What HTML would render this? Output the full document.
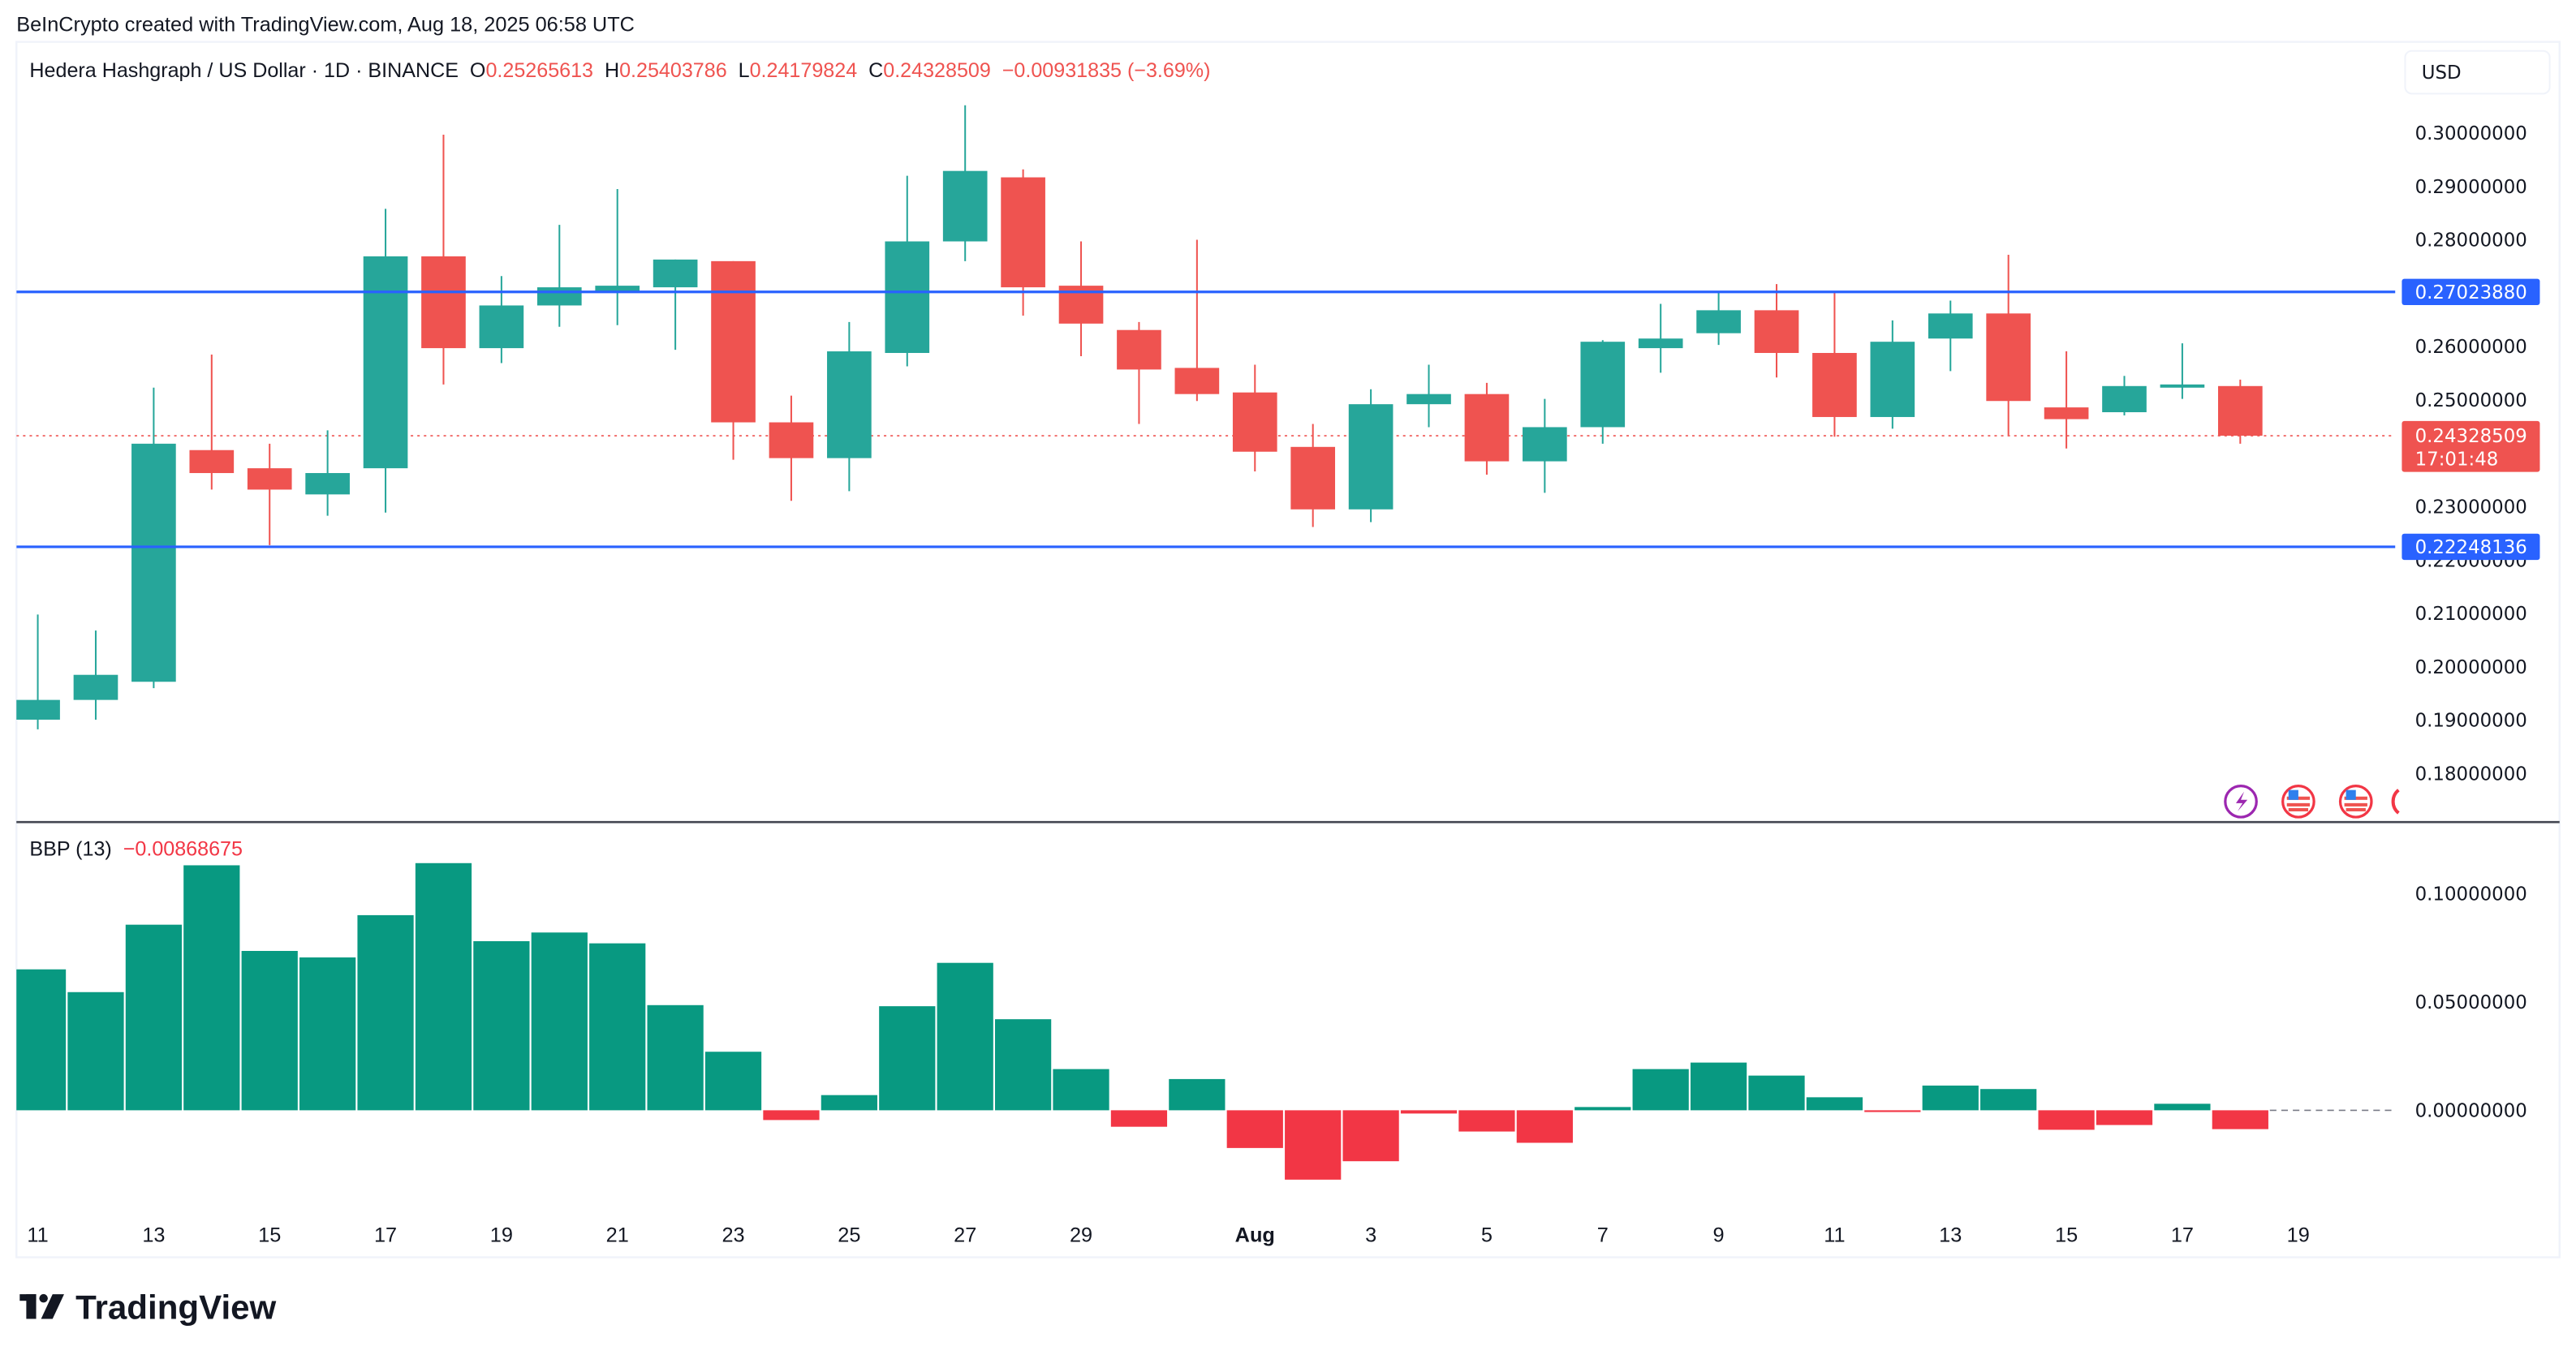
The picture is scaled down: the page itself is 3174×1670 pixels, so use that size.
<!DOCTYPE html>
<html><head><meta charset="utf-8"><style>
html,body{margin:0;padding:0;background:#fff;}
svg{display:block;}
text{font-family:"Liberation Sans",sans-serif;}
.ax{font-family:"DejaVu Sans","Liberation Sans",sans-serif;font-size:11.3px;fill:#131722;}
</style></head><body>
<svg id="chart" width="3174" height="1670" viewBox="0 0 1568 825" xmlns="http://www.w3.org/2000/svg">
<rect x="0" y="0" width="1568" height="825" fill="#fff"/>
<text x="10" y="19" font-size="12.5" fill="#131722">BeInCrypto created with TradingView.com, Aug 18, 2025 06:58 UTC</text>
<rect x="10" y="25.5" width="1548" height="740" fill="none" stroke="#f0f3fa" stroke-width="1.2"/>
<g id="price"></g>
<g id="bbp"></g>
<g id="overlay"></g>
<text x="18" y="47" font-size="12.4"><tspan fill="#131722">Hedera Hashgraph / US Dollar · 1D · BINANCE&#160;&#160;O</tspan><tspan fill="#ef5350">0.25265613</tspan><tspan fill="#131722">&#160;&#160;H</tspan><tspan fill="#ef5350">0.25403786</tspan><tspan fill="#131722">&#160;&#160;L</tspan><tspan fill="#ef5350">0.24179824</tspan><tspan fill="#131722">&#160;&#160;C</tspan><tspan fill="#ef5350">0.24328509&#160;&#160;−0.00931835 (−3.69%)</tspan></text>
<rect x="1464" y="31" width="88" height="26" rx="4" fill="#fff" stroke="#f0f3fa"/>
<text x="1474" y="48" class="ax">USD</text>
<text x="18" y="521" font-size="12.4"><tspan fill="#131722">BBP (13)&#160;&#160;</tspan><tspan fill="#f23645">−0.00868675</tspan></text>
<g>
<rect x="12" y="788" width="10" height="4" fill="#131722"/><rect x="16" y="788" width="6" height="15" fill="#131722"/>
<circle cx="26.5" cy="790.5" r="2.6" fill="#131722"/>
<polygon points="32,788 39,788 32,803 25,803" fill="#131722"/>
<text x="46" y="803" font-size="20.8" font-weight="bold" fill="#131722">TradingView</text>
</g>
</svg>
<script>
const dates=["Jul 11","Jul 12","Jul 13","Jul 14","Jul 15","Jul 16","Jul 17","Jul 18","Jul 19","Jul 20","Jul 21","Jul 22","Jul 23","Jul 24","Jul 25","Jul 26","Jul 27","Jul 28","Jul 29","Jul 30","Jul 31","Aug 1","Aug 2","Aug 3","Aug 4","Aug 5","Aug 6","Aug 7","Aug 8","Aug 9","Aug 10","Aug 11","Aug 12","Aug 13","Aug 14","Aug 15","Aug 16","Aug 17","Aug 18"];
const opens=[0.1901,0.1938,0.1972,0.2406,0.2372,0.2323,0.2372,0.2769,0.2597,0.2677,0.2701,0.2711,0.2760,0.2458,0.2391,0.2588,0.2797,0.2917,0.2714,0.2631,0.2560,0.2514,0.2412,0.2295,0.2492,0.2511,0.2385,0.2449,0.2597,0.2625,0.2668,0.2588,0.2468,0.2615,0.2662,0.2486,0.2477,0.2523,0.2526];
const highs=[0.2098,0.2068,0.2523,0.2585,0.2418,0.2443,0.2858,0.2997,0.2732,0.2828,0.2895,0.2763,0.2760,0.2508,0.2646,0.2920,0.3052,0.2932,0.2797,0.2646,0.2800,0.2566,0.2455,0.2520,0.2566,0.2532,0.2502,0.2612,0.2680,0.2702,0.2717,0.2702,0.2649,0.2686,0.2772,0.2591,0.2545,0.2606,0.2538];
const lows=[0.1883,0.1901,0.1960,0.2332,0.2228,0.2283,0.2289,0.2529,0.2569,0.2637,0.2640,0.2594,0.2388,0.2311,0.2329,0.2563,0.2760,0.2658,0.2582,0.2455,0.2498,0.2366,0.2262,0.2271,0.2449,0.2360,0.2326,0.2418,0.2551,0.2603,0.2542,0.2431,0.2446,0.2554,0.2434,0.2409,0.2471,0.2502,0.2418];
const closes=[0.1938,0.1985,0.2418,0.2363,0.2332,0.2363,0.2769,0.2597,0.2677,0.2711,0.2714,0.2763,0.2458,0.2391,0.2591,0.2797,0.2929,0.2711,0.2643,0.2557,0.2511,0.2403,0.2295,0.2492,0.2511,0.2385,0.2449,0.2609,0.2615,0.2668,0.2588,0.2468,0.2609,0.2662,0.2498,0.2464,0.2526,0.2529,0.2433];
const bbpValues=[0.065,0.0545,0.0856,0.113,0.0735,0.0705,0.090,0.114,0.078,0.082,0.077,0.0485,0.027,-0.0045,0.007,0.048,0.068,0.042,0.019,-0.0076,0.0144,-0.0174,-0.032,-0.0235,-0.0015,-0.0098,-0.015,0.0015,0.019,0.022,0.016,0.006,-0.0008,0.0114,0.0098,-0.009,-0.0068,0.003,-0.0087];
const priceTicks=["0.30000000","0.29000000","0.28000000","0.26000000","0.25000000","0.23000000","0.22000000","0.21000000","0.20000000","0.19000000","0.18000000"];
const bbpTicks=["0.10000000","0.05000000","0.00000000"];
const dateTicks=["11","13","15","17","19","21","23","25","27","29","Aug","3","5","7","9","11","13","15","17","19"];
const dateTickIdx=[0,2,4,6,8,10,12,14,16,18,21,23,25,27,29,31,33,35,37,39];
const levels=[0.27023880,0.22248136];
const lastPrice=0.24328509;

const NS="http://www.w3.org/2000/svg";
const xScale=i=>23+i*35.28;
const yP=p=>81+(0.30-p)*3250;
const yB=v=>676-v*1320;
function mk(tag,attrs,parent){const e=document.createElementNS(NS,tag);for(const k in attrs)e.setAttribute(k,attrs[k]);parent.appendChild(e);return e;}
const gp=document.getElementById('price'),gb=document.getElementById('bbp'),go=document.getElementById('overlay');
const clipDefs=mk('defs',{},document.getElementById('chart'));
const cp=mk('clipPath',{id:'plotclip'},clipDefs);mk('rect',{x:10,y:26,width:1448,height:740},cp);
gp.setAttribute('clip-path','url(#plotclip)');gb.setAttribute('clip-path','url(#plotclip)');

priceTicks.forEach(t=>{const el=mk('text',{x:1470,y:yP(parseFloat(t))+4,class:'ax'},go);el.textContent=t;

});
const lp=mk('line',{x1:10,x2:1458,y1:yP(lastPrice),y2:yP(lastPrice),stroke:'#ef5350','stroke-width':0.8,'stroke-dasharray':'1.5 2.5'},gp);


dates.forEach((d,i)=>{const x=xScale(i),up=closes[i]>=opens[i],c=up?'#26a69a':'#ef5350';
const g=mk('g',{},gp);


mk('line',{x1:x,x2:x,y1:yP(highs[i]),y2:yP(lows[i]),stroke:c,'stroke-width':1},g);
const t=yP(Math.max(opens[i],closes[i])),b=yP(Math.min(opens[i],closes[i]));
mk('rect',{x:x-13.5,y:t,width:27,height:Math.max(1,b-t),fill:c},g);});
levels.forEach((v,k)=>{const l=mk('line',{x1:10,x2:1458,y1:yP(v),y2:yP(v),stroke:'#2962ff','stroke-width':1.6},gp);


const r=mk('rect',{x:1462,y:yP(v)-8,width:84,height:16,rx:1.5,fill:'#2962ff'},go);


const tx=mk('text',{x:1470,y:yP(v)+4,class:'ax',style:'fill:#fff'},go);tx.textContent=v.toFixed(8);

});
const lr=mk('rect',{x:1462,y:yP(lastPrice)-9,width:84,height:31,rx:1.5,fill:'#ef5350'},go);


const lt=mk('text',{x:1470,y:yP(lastPrice)+4,class:'ax',style:'fill:#fff'},go);lt.textContent=lastPrice.toFixed(8);


const lc=mk('text',{x:1470,y:yP(lastPrice)+18,class:'ax',style:'fill:#fff'},go);lc.textContent='17:01:48';


const ic=[[1364,'#9c27b0'],[1399,'#f23645'],[1434,'#f23645'],[1468,'#f23645']];
ic.forEach((a,k)=>{const g=mk('g',{},go);


if(k==3){mk('path',{d:'M1460 481 A9 9 0 0 0 1460 495',fill:'none',stroke:a[1],'stroke-width':2},g);return;}
mk('circle',{cx:a[0],cy:488,r:9.5,fill:'#fff',stroke:a[1],'stroke-width':1.6},g);
if(k==0){mk('path',{d:'M1366 482 L1361 489 L1365 489 L1362 494 L1368 487 L1364 487 Z',fill:a[1]},g);}
else{mk('rect',{x:a[0]-7,y:485,width:14,height:2,fill:'#ef5350'},g);mk('rect',{x:a[0]-7,y:489,width:14,height:2,fill:'#ef5350'},g);mk('rect',{x:a[0]-6,y:492,width:12,height:2,fill:'#ef5350'},g);mk('rect',{x:a[0]-6,y:481,width:6,height:6,fill:'#2f80ed'},g);}});
const sp=mk('line',{x1:10,x2:1558,y1:500.5,y2:500.5,stroke:'#434651','stroke-width':1.3},go);


bbpTicks.forEach(t=>{const el=mk('text',{x:1470,y:yB(parseFloat(t))+4,class:'ax'},go);el.textContent=t;

});
const zl=mk('line',{x1:xScale(bbpValues.length-1)+18,x2:1458,y1:yB(0),y2:yB(0),stroke:'#787b86','stroke-width':0.8,'stroke-dasharray':'4 3'},gb);


bbpValues.forEach((v,i)=>{const x=xScale(i),y0=yB(0),y1=yB(v);
const r=mk('rect',{x:x-17.1,y:Math.min(y0,y1),width:34.2,height:Math.max(0.8,Math.abs(y1-y0)),fill:v>=0?'#089981':'#f23645'},gb);

});
dateTicks.forEach((t,k)=>{const el=mk('text',{x:xScale(dateTickIdx[k]),y:756,'text-anchor':'middle','font-size':12.5,fill:'#131722','font-weight':t=='Aug'?'bold':'normal'},go);el.textContent=t;

});
</script>
</body></html>
